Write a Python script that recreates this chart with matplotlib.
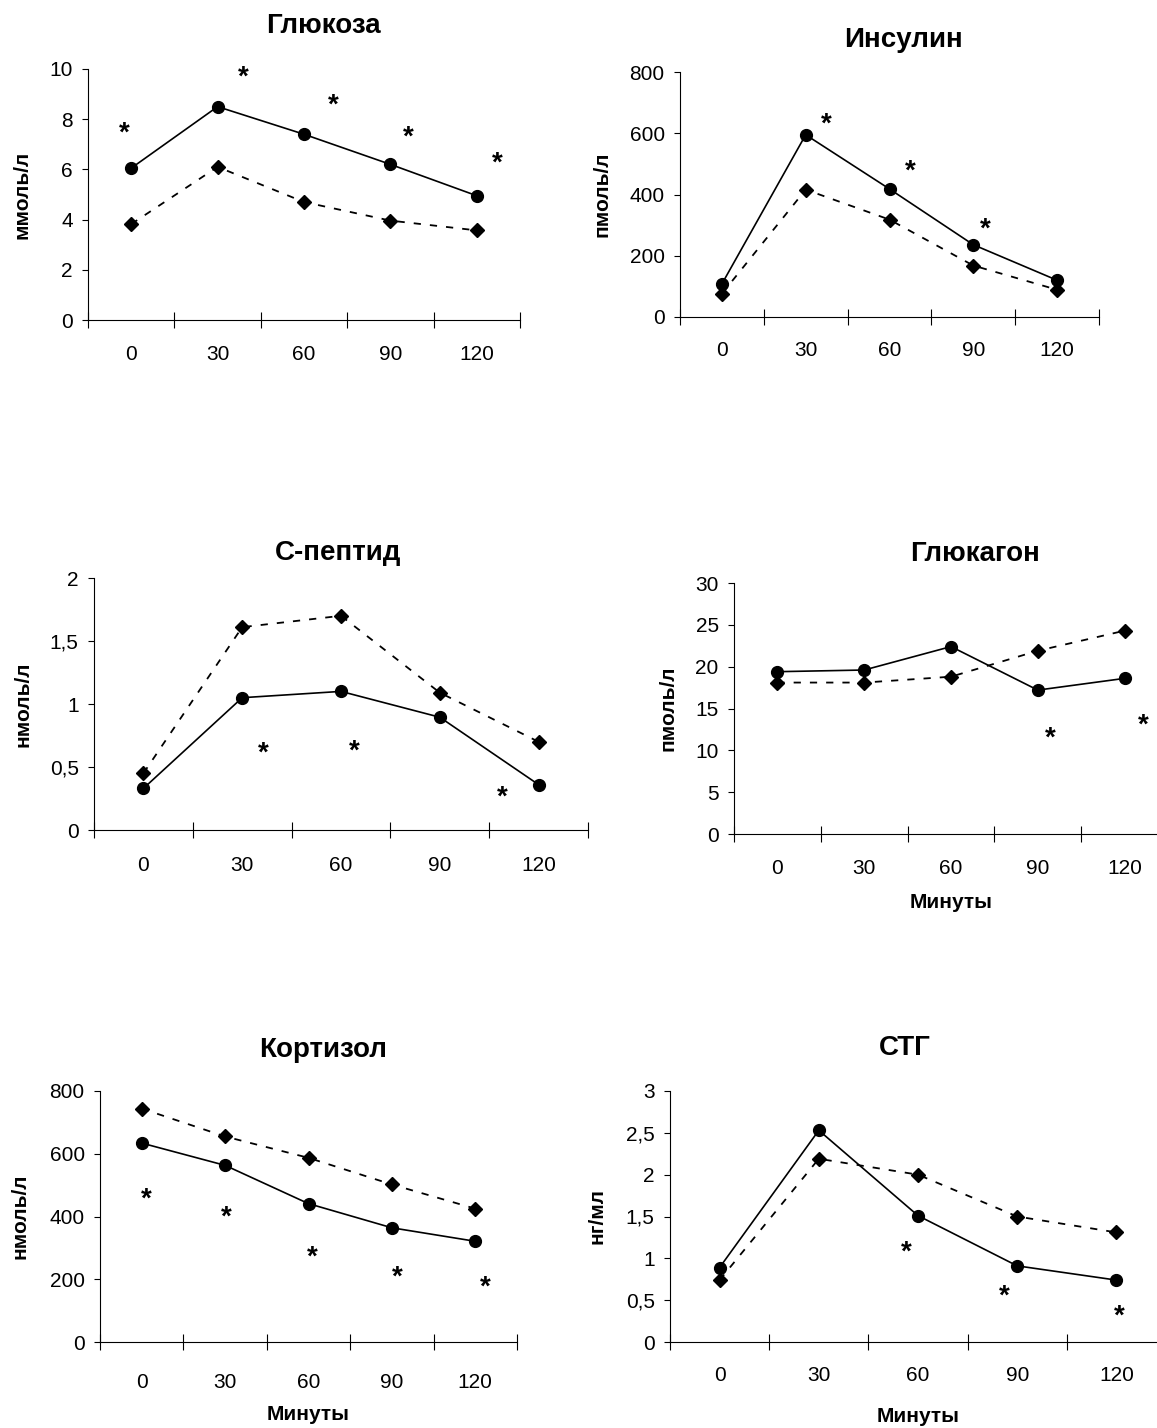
import numpy as np
import matplotlib
matplotlib.use('Agg')
import matplotlib.pyplot as plt
from matplotlib.ticker import FuncFormatter
from matplotlib.transforms import offset_copy

plt.rcParams['font.family'] = ['Liberation Sans', 'DejaVu Sans']

minutes = ['0', '30', '60', '90', '120']

# Глюкоза, ммоль/л
glu_circle = [6.05, 8.5, 7.4, 6.2, 4.95]
glu_diamond = [3.82, 6.1, 4.7, 3.96, 3.57]
glu_star_x = [-0.08, 1.30, 2.34, 3.21, 4.24]
glu_star_y = [7.7, 9.95, 8.8, 7.55, 6.5]

# Инсулин, пмоль/л
ins_circle = [108, 595, 418, 236, 120]
ins_diamond = [76, 416, 318, 168, 89]
ins_star_x = [1.24, 2.25, 3.14]
ins_star_y = [650, 497, 309]

# С-пептид, нмоль/л
cp_circle = [0.33, 1.05, 1.10, 0.895, 0.36]
cp_diamond = [0.45, 1.61, 1.70, 1.09, 0.70]
cp_star_x = [1.21, 2.13, 3.63]
cp_star_y = [0.66, 0.675, 0.31]

# Глюкагон, пмоль/л
gcg_circle = [19.4, 19.6, 22.4, 17.2, 18.6]
gcg_diamond = [18.1, 18.1, 18.8, 21.9, 24.3]
gcg_star_x = [3.14, 4.21]
gcg_star_y = [12.2, 13.8]

# Кортизол, нмоль/л
cort_circle = [634, 563, 441, 364, 321]
cort_diamond = [744, 655, 587, 502, 425]
cort_star_x = [0.06, 1.02, 2.05, 3.06, 4.12]
cort_star_y = [476, 417, 290, 226, 194]

# СТГ, нг/мл
stg_circle = [0.89, 2.53, 1.51, 0.91, 0.74]
stg_diamond = [0.74, 2.19, 2.0, 1.50, 1.31]
stg_star_x = [1.88, 2.87, 4.03]
stg_star_y = [1.155, 0.62, 0.39]

W, H = 1157, 1428

# layout in pixels: box (left, top, right, bottom), title pos, ylabel x, tick label distance, xlabel y
panels = [
    dict(title='Глюкоза', unit='ммоль/л', circle=glu_circle, diamond=glu_diamond,
         sx=glu_star_x, sy=glu_star_y, yticks=np.arange(0, 10.1, 2),
         box=(88, 69, 520, 320), tpos=(323, 26), ylx=22, tdist=32, xly=None),
    dict(title='Инсулин', unit='пмоль/л', circle=ins_circle, diamond=ins_diamond,
         sx=ins_star_x, sy=ins_star_y, yticks=np.arange(0, 801, 200),
         box=(680, 72, 1099, 317), tpos=(903, 40), ylx=602, tdist=31, xly=None),
    dict(title='С-пептид', unit='нмоль/л', circle=cp_circle, diamond=cp_diamond,
         sx=cp_star_x, sy=cp_star_y, yticks=np.arange(0, 2.01, 0.5),
         box=(94, 578, 588, 830), tpos=(338, 553), ylx=23, tdist=33, xly=None),
    dict(title='Глюкагон', unit='пмоль/л', circle=gcg_circle, diamond=gcg_diamond,
         sx=gcg_star_x, sy=gcg_star_y, yticks=np.arange(0, 30.1, 5),
         box=(734, 583, 1168, 834), tpos=(975, 554), ylx=668, tdist=32, xly=902),
    dict(title='Кортизол', unit='нмоль/л', circle=cort_circle, diamond=cort_diamond,
         sx=cort_star_x, sy=cort_star_y, yticks=np.arange(0, 801, 200),
         box=(100, 1091, 517, 1342), tpos=(323, 1050), ylx=20, tdist=38, xly=1415),
    dict(title='СТГ', unit='нг/мл', circle=stg_circle, diamond=stg_diamond,
         sx=stg_star_x, sy=stg_star_y, yticks=np.arange(0, 3.01, 0.5),
         box=(670, 1091, 1166, 1342), tpos=(905, 1048), ylx=597, tdist=31, xly=1417),
]


def comma_fmt(v, pos):
    s = ('%g' % v)
    return s.replace('.', ',')


fig = plt.figure(figsize=(W / 100, H / 100), dpi=100)

for p in panels:
    l, t, r, b = p['box']
    ax = fig.add_axes([l / W, 1 - b / H, (r - l) / W, (b - t) / H])
    x = np.arange(len(minutes))
    ax.plot(x, p['circle'], color='black', lw=1.2, marker='o', ms=8.5, clip_on=False)
    ax.plot(x, p['diamond'], color='black', lw=1.3, ls=(0, (4, 5)),
            marker='D', ms=7, clip_on=False)

    ax.set_xlim(-0.5, len(minutes) - 0.5)
    ax.set_ylim(p['yticks'][0], p['yticks'][-1])
    for s in ['top', 'right']:
        ax.spines[s].set_visible(False)
    for s in ['left', 'bottom']:
        ax.spines[s].set_linewidth(0.8)

    # ticks between categories, labels at category centres
    ax.set_xticks(np.arange(-0.5, len(minutes), 1))
    ax.set_xticklabels([])
    ax.set_xticks(x, minor=True)
    ax.set_xticklabels(minutes, minor=True)
    ax.tick_params(axis='x', which='major', direction='inout', length=11, width=0.8)
    pad = (p['tdist'] - 7) * 0.72
    ax.tick_params(axis='x', which='minor', length=0, pad=pad, labelsize=15)

    ax.set_yticks(p['yticks'])
    ax.yaxis.set_major_formatter(FuncFormatter(comma_fmt))
    ax.tick_params(axis='y', direction='out', length=4, width=0.8, pad=7, labelsize=15)

    ax.set_ylabel(p['unit'], fontsize=15, fontweight='bold')
    ax.yaxis.label.set_va('center')
    ax.yaxis.set_label_coords(-(l - p['ylx']) / (r - l), 0.5)

    if p['xly'] is not None:
        ax.set_xlabel('Минуты', fontsize=15, fontweight='bold')
        ax.xaxis.label.set_va('center')
        ax.xaxis.set_label_coords(0.5, -(p['xly'] - b) / (b - t))

    star_tr = offset_copy(ax.transData, fig=fig, y=-5, units='points')
    for sx, sy in zip(p['sx'], p['sy']):
        ax.text(sx, sy, '*', transform=star_tr, ha='center', va='center',
                fontsize=20, fontweight='bold', clip_on=False)

    tx, ty = p['tpos']
    fig.text(tx / W, 1 - ty / H, p['title'], ha='center', va='center',
             fontsize=20, fontweight='bold')

fig.savefig('out.png', dpi=100)
